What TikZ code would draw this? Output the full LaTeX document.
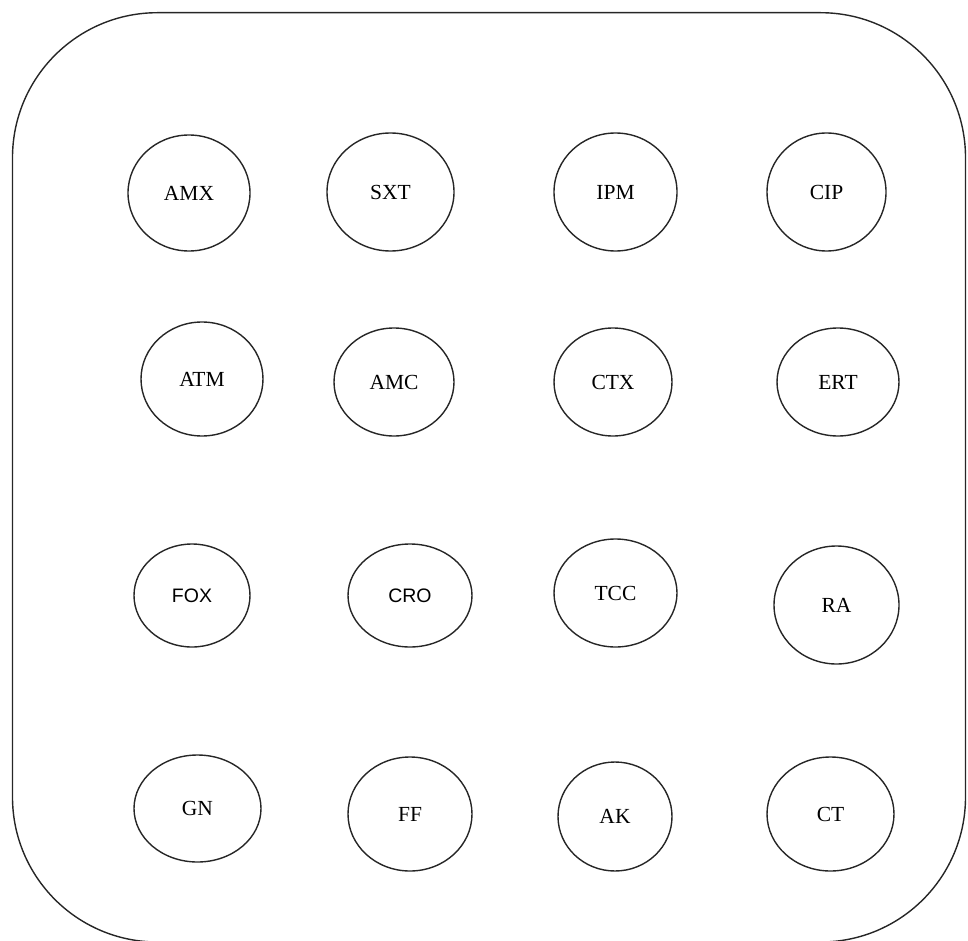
\documentclass[tikz,border=0pt]{standalone}
\usepackage{fontspec}
\setmainfont{Liberation Serif}
\newfontfamily\lsans{Liberation Sans}
\usetikzlibrary{shapes.geometric}
\begin{document}
\begin{tikzpicture}[x=1pt,y=-1pt,
  bub/.style={draw=black!85, line width=1.4pt, ellipse, inner sep=0pt, font=\fontsize{21.5}{24}\selectfont},
  sansbub/.style={bub, font=\lsans\fontsize{19.5}{22}\selectfont},
  frame/.style={draw=black!85, line width=1.4pt, rounded corners=145pt}]
\useasboundingbox (0,0) rectangle (968,941);
\draw[frame] (12.5,12.7) rectangle (965.5,942);
% row 1
\node[bub, minimum width=122pt, minimum height=116pt] (amx) at (189,193) {AMX};
\node[bub, minimum width=127pt, minimum height=118pt] (sxt) at (390.5,192) {SXT};
\node[bub, minimum width=123pt, minimum height=118pt] (ipm) at (615.5,192) {IPM};
\node[bub, minimum width=119pt, minimum height=118pt] (cip) at (826.5,192) {CIP};
% row 2
\node[bub, minimum width=122pt, minimum height=114pt] (atm) at (202,379) {ATM};
\node[bub, minimum width=120pt, minimum height=108pt] (amc) at (394,382) {AMC};
\node[bub, minimum width=118pt, minimum height=108pt] (ctx) at (613,382) {CTX};
\node[bub, minimum width=122pt, minimum height=108pt] (ert) at (838,382) {ERT};
% row 3
\node[sansbub, minimum width=116pt, minimum height=103pt] (fox) at (192,595.5) {FOX};
\node[sansbub, minimum width=124pt, minimum height=103pt] (cro) at (410,595.5) {CRO};
\node[bub, minimum width=123pt, minimum height=108pt] (tcc) at (615.5,593) {TCC};
\node[bub, minimum width=125pt, minimum height=118pt] (ra) at (836.5,605) {RA};
% row 4
\node[bub, minimum width=127pt, minimum height=107pt] (gn) at (197.5,808.5) {GN};
\node[bub, minimum width=124pt, minimum height=114pt] (ff) at (410,814) {FF};
\node[bub, minimum width=114pt, minimum height=109pt] (ak) at (615,816.5) {AK};
\node[bub, minimum width=127pt, minimum height=114pt] (ct) at (830.5,814) {CT};
\end{tikzpicture}
\end{document}
